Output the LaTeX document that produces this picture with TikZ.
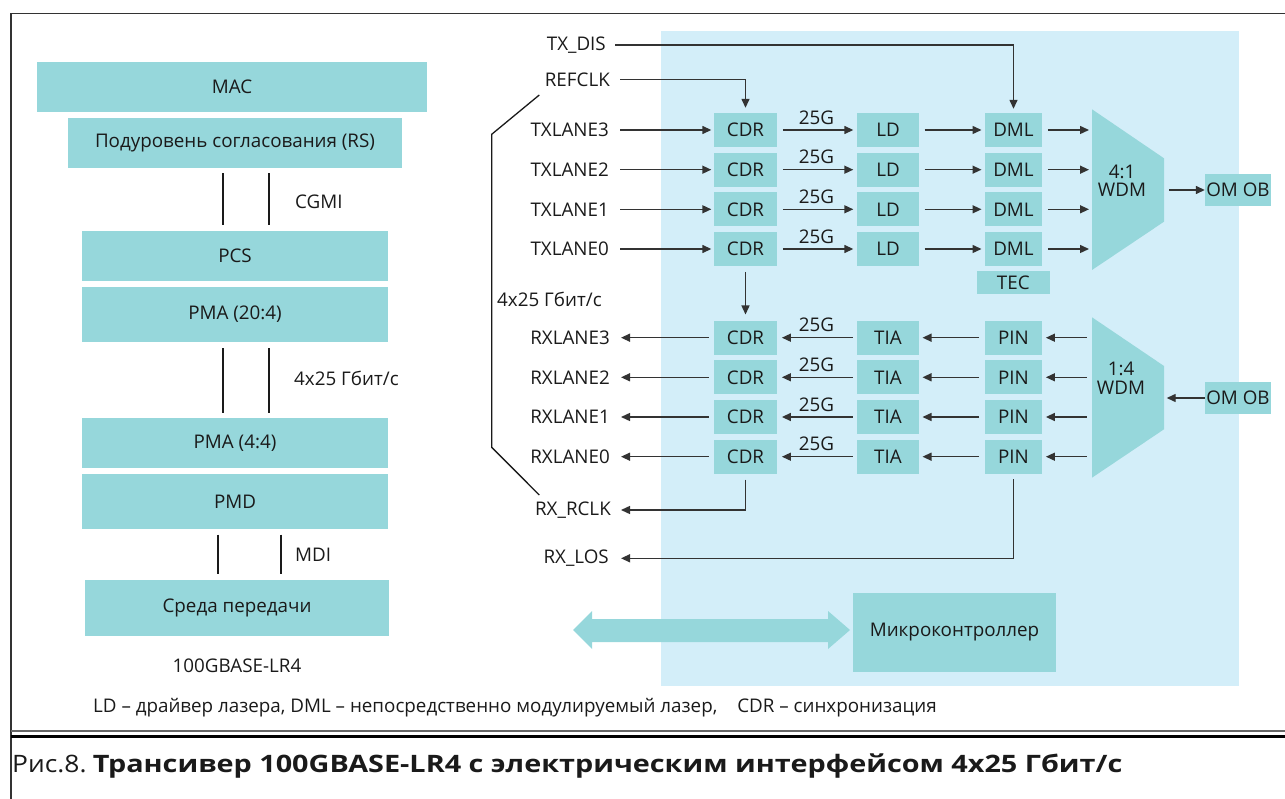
\documentclass[tikz,border=0pt]{standalone}
\usepackage{fontspec}
\setmainfont{Open Sans}
\usetikzlibrary{arrows.meta,calc}
\definecolor{boxc}{HTML}{96D7DB}
\definecolor{bgc}{HTML}{D3EEF9}
\definecolor{ink}{HTML}{1A1A1A}
\definecolor{lnc}{HTML}{333333}
\newcommand{\dfont}{\fontsize{18.8}{18.5}\selectfont}
\newcommand{\capfont}{\fontsize{24}{26}\selectfont}
\begin{document}
\begin{tikzpicture}[x=1pt,y=-1pt,
  box/.style={fill=boxc, inner sep=0pt, text=ink, font=\dfont},
  lbl/.style={inner sep=0pt, text=ink, font=\dfont},
  arr/.style={draw=lnc, line width=1.4pt, -{Triangle[length=9pt,width=8pt]}},
  pline/.style={draw=lnc, line width=1.4pt},
  sline/.style={draw=ink, line width=1.3pt},
  frame/.style={draw=lnc, line width=1.5pt}]
\useasboundingbox (0,0) rectangle (1285,799);
% frame
\draw[frame] (11,799) -- (11,13.5) -- (1285,13.5);
\draw[draw=gray!80!black, line width=1.5pt] (11,731) -- (1285,731);
\draw[draw=black, line width=3pt] (11,736.5) -- (1285,736.5);
% ---------- left stack ----------
\node[box, minimum width=390pt, minimum height=50pt] (mac) at (232,87) {MAC};
\node[box, minimum width=334pt, minimum height=50pt] (rs) at (235,143) {Подуровень согласования (RS)};
\node[box, minimum width=306pt, minimum height=50pt] (pcs) at (235,256) {PCS};
\node[box, minimum width=306pt, minimum height=55pt] (pma20) at (235,314.5) {PMA (20:4)};
\node[box, minimum width=306pt, minimum height=50pt] (pma4) at (235,443) {PMA (4:4)};
\node[box, minimum width=306pt, minimum height=55pt] (pmd) at (235,501.5) {PMD};
\node[box, minimum width=304pt, minimum height=56pt] (sreda) at (237,608) {Среда передачи};
\draw[sline] ([xshift=-12pt,yshift=-5pt]rs.south) -- ([xshift=-12pt,yshift=6pt]pcs.north);
\draw[sline] ([xshift=34pt,yshift=-5pt]rs.south) -- ([xshift=34pt,yshift=6pt]pcs.north);
\node[lbl, anchor=west] (cgmi) at (295,202) {CGMI};
\draw[sline] ([xshift=-12pt,yshift=-6pt]pma20.south) -- ([xshift=-12pt,yshift=5pt]pma4.north);
\draw[sline] ([xshift=34pt,yshift=-6pt]pma20.south) -- ([xshift=34pt,yshift=5pt]pma4.north);
\node[lbl, anchor=west] (rate) at (294,378) {4x25 Гбит/с};
\draw[sline] ([xshift=-17pt,yshift=-5.5pt]pmd.south) -- ([xshift=-17pt,yshift=5.5pt]pmd.south |- sreda.north);
\draw[sline] ([xshift=46pt,yshift=-5.5pt]pmd.south) -- ([xshift=46pt,yshift=5.5pt]pmd.south |- sreda.north);
\node[lbl, anchor=west] (mdi) at (295,555) {MDI};
\node[lbl] (lr4) at (237,666) {100GBASE-LR4};
% ---------- right part ----------
\fill[bgc] (661,31) rectangle (1239,686);
% bracket
\draw[sline] (539.3,95) -- (491.7,134.3) -- (491.7,447.3) -- (539.3,495);
\node[lbl, anchor=west] (rate2) at (497,299) {4x25 Гбит/с};
% WDM shapes
\fill[boxc] (1092,109.3) -- (1164,158.3) -- (1164,221.7) -- (1092,270) -- cycle;
\fill[boxc] (1092,317.3) -- (1164,366) -- (1164,429.3) -- (1092,477.7) -- cycle;
\node[lbl, align=center] (wdmtx) at (1122,181) {4:1\\WDM};
\node[lbl, align=center] (wdmrx) at (1121,378.5) {1:4\\WDM};
\coordinate (wtxL) at (1092,190);
\coordinate (wtxR) at (1164,190);
\coordinate (wrxL) at (1092,398);
\coordinate (wrxR) at (1164,398);
% TX rows
\foreach \i/\y in {3/130,2/169.7,1/209.3,0/249}{
  \node[lbl, anchor=east] (txl\i) at (609,\y) {TXLANE\i};
  \node[box, minimum width=63pt, minimum height=34pt] (cdrt\i) at (745.5,\y) {CDR};
  \node[box, minimum width=62pt, minimum height=34pt] (ld\i) at (888,\y) {LD};
  \node[box, minimum width=57pt, minimum height=34pt] (dml\i) at (1013.5,\y) {DML};
  \node[lbl] (g25t\i) at (816.5,\y-12.7) {25G};
  \draw[arr] ([xshift=11pt]txl\i.east) -- ([xshift=-2.5pt]cdrt\i.west);
  \draw[arr] ([xshift=5.7pt]cdrt\i.east) -- ([xshift=-3.5pt]ld\i.west);
  \draw[arr] ([xshift=5.3pt]ld\i.east) -- ([xshift=-3.3pt]dml\i.west);
  \draw[arr] ([xshift=5.7pt]dml\i.east) -- ([xshift=-3pt]dml\i.east -| wtxL);
}
% RX rows
\foreach \i/\y in {3/337.7,2/377.3,1/417,0/456.7}{
  \node[lbl, anchor=east] (rxl\i) at (610,\y) {RXLANE\i};
  \node[box, minimum width=63pt, minimum height=34pt] (cdrr\i) at (745.5,\y) {CDR};
  \node[box, minimum width=62pt, minimum height=34pt] (tia\i) at (888,\y) {TIA};
  \node[box, minimum width=57pt, minimum height=34pt] (pin\i) at (1013.5,\y) {PIN};
  \node[lbl] (g25r\i) at (816.5,\y-12.7) {25G};
  \draw[arr] ([xshift=-5pt]cdrr\i.west) -- ([xshift=11pt]rxl\i.east);
  \draw[arr] ([xshift=-4pt]tia\i.west) -- ([xshift=4.7pt]cdrr\i.east);
  \draw[arr] ([xshift=-5.7pt]pin\i.west) -- ([xshift=3.3pt]tia\i.east);
  \draw[arr] ([xshift=-5.3pt]pin\i.west -| wrxL) -- ([xshift=3.7pt]pin\i.east);
}
% TEC
\node[box, minimum width=73.3pt, minimum height=23pt] (tec) at (1013.3,282.5) {TEC};
% OM OB
\node[box, minimum width=66pt, minimum height=31.4pt] (omtx) at (1238,190) {OM OB};
\node[box, minimum width=66pt, minimum height=31.4pt] (omrx) at (1238,398) {OM OB};
\draw[arr] ([xshift=5pt]wtxR) -- (omtx.west);
\draw[arr] (omrx.west) -- ([xshift=2.7pt]wrxR);
% control signals
\node[lbl, anchor=east] (txdis) at (606,45) {TX\_DIS};
\node[lbl, anchor=east] (refclk) at (610,79.3) {REFCLK};
\node[lbl, anchor=east] (rxrclk) at (611,510) {RX\_RCLK};
\node[lbl, anchor=east] (rxlos) at (609,558.3) {RX\_LOS};
\draw[arr] ([xshift=9pt]txdis.east) -| ([yshift=4pt]dml3.north);
\draw[arr] ([xshift=10pt]refclk.east) -| ([yshift=5pt]cdrt3.north);
\draw[arr] ([yshift=-5.7pt]cdrt0.south) -- ([yshift=6pt]cdrr3.north);
\draw[arr] ([yshift=-5.6pt]cdrr0.south) |- ([xshift=10pt]rxrclk.east);
\draw[arr] ([yshift=-5.3pt]pin0.south) |- ([xshift=12pt]rxlos.east);
% microcontroller
\node[box, minimum width=203pt, minimum height=79pt] (mcu) at (954.5,632) {Микроконтроллер};
\fill[boxc] (573,630) -- (592,611) -- (592,619) -- (828,619) -- (828,611) -- (850,630)
  -- (828,649) -- (828,642) -- (592,642) -- (592,649) -- cycle;
% notes
\node[lbl, anchor=west] (note) at (93,708) {LD -- драйвер лазера, DML -- непосредственно модулируемый лазер,\hspace{0.8em} CDR -- синхронизация};
\node[inner sep=0pt, text=ink, font=\capfont, anchor=west] (cap) at (12,766) {\scalebox{1.1}[1]{Рис.8.} \scalebox{1.2}[1]{\textbf{Трансивер 100GBASE-LR4 с электрическим интерфейсом 4x25 Гбит/с}}};
\end{tikzpicture}
\end{document}
